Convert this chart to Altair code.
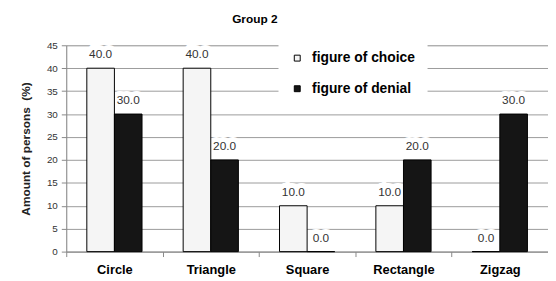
import altair as alt
import pandas as pd

categories = ["Circle", "Triangle", "Square", "Rectangle", "Zigzag"]
series = ["figure of choice", "figure of denial"]
choice = [40.0, 40.0, 10.0, 10.0, 0.0]
denial = [30.0, 20.0, 0.0, 20.0, 30.0]
y_ticks = [0, 5, 10, 15, 20, 25, 30, 35, 40, 45]

rows = []
for c, a, b in zip(categories, choice, denial):
    rows.append({"category": c, "series": series[0], "value": a, "label": f"{a:.1f}"})
    rows.append({"category": c, "series": series[1], "value": b, "label": f"{b:.1f}"})
df = pd.DataFrame(rows)

FONT = "Liberation Sans"

x_enc = alt.X(
    "category:N", sort=categories,
    scale=alt.Scale(paddingInner=0, paddingOuter=0),
    axis=alt.Axis(title=None, labelAngle=0, labelFont=FONT, labelFontWeight="bold",
                  labelFontSize=13, labelColor="black", tickBand="extent",
                  domainColor="#888888", tickColor="#888888", tickSize=5,
                  labelPadding=7, grid=False),
)
xo_enc = alt.XOffset("series:N", sort=series,
                     scale=alt.Scale(paddingOuter=0.745, paddingInner=0))
y_enc = alt.Y(
    "value:Q",
    scale=alt.Scale(domain=[0, 45], nice=False),
    axis=alt.Axis(values=y_ticks, title="Amount of persons\u00a0\u00a0(%)", titleFont=FONT,
                  titleFontWeight="bold", titleFontSize=12, titleColor="#222222",
                  titlePadding=14, labelFont=FONT, labelFontSize=10, labelColor="#333333",
                  tickSize=5, tickColor="#888888", domainColor="#888888",
                  labelPadding=4, grid=True, gridColor="#9a9a9a"),
)

base = alt.Chart(df)

halo = base.mark_text(dy=-7, baseline="bottom", font=FONT, fontSize=12,
                      fill="white", stroke="white", strokeWidth=10).encode(
    x=x_enc, xOffset=xo_enc, y=y_enc, text="label:N")

bars = base.mark_bar(stroke="black", strokeWidth=1).encode(
    x=x_enc, xOffset=xo_enc, y=y_enc,
    color=alt.Color("series:N",
                    scale=alt.Scale(domain=series, range=["#f5f5f5", "#151515"]),
                    legend=alt.Legend(title=None, orient="none", legendX=215, legendY=-6,
                                      fillColor="white", padding=12, labelFont=FONT,
                                      labelFontWeight="bold", labelFontSize=14,
                                      labelColor="black", symbolType="square",
                                      symbolSize=36, symbolStrokeColor="black",
                                      symbolStrokeWidth=1, labelOffset=8,
                                      rowPadding=17)),
)

labels = base.mark_text(dy=-7, baseline="bottom", font=FONT, fontSize=12,
                        color="#333333").encode(
    x=x_enc, xOffset=xo_enc, y=y_enc, text="label:N")

chart = alt.layer(halo, bars, labels).properties(
    width=488, height=209,
    title=alt.TitleParams("Group 2", font=FONT, fontSize=12, fontWeight="bold",
                          color="black", anchor="middle", dx=-53, offset=14),
    autosize=alt.AutoSizeParams(type="none"),
    padding={"left": 59, "top": 36, "right": 0, "bottom": 28},
).configure_view(stroke=None).configure(background="white")

chart.save("out.html", embed_options={"renderer": "svg", "actions": False})
